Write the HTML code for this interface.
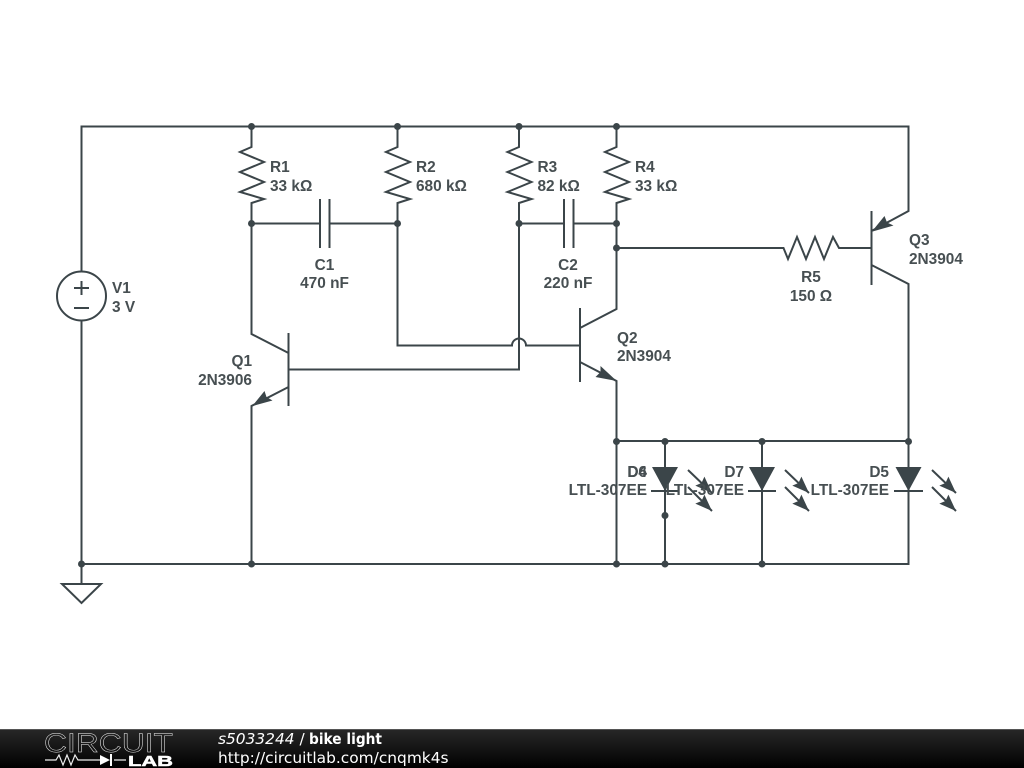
<!DOCTYPE html>
<html><head><meta charset="utf-8"><style>
html,body{margin:0;padding:0;background:#fff}
svg{display:block}
.w{fill:none;stroke:#3b4549;stroke-width:2;stroke-linejoin:miter}
.t{font-family:"Liberation Sans",sans-serif;font-size:15.4px;font-weight:bold;fill:#474f52}
.f{font-family:"DejaVu Sans",sans-serif;font-size:15.4px;fill:#fff}
.b{filter:blur(.35px)}
</style></head><body>
<svg width="1024" height="768" viewBox="0 0 1024 768" xmlns="http://www.w3.org/2000/svg">
<defs><linearGradient id="g" x1="0" y1="0" x2="0" y2="1"><stop offset="0" stop-color="#282828"/><stop offset="1" stop-color="#000"/></linearGradient></defs>
<rect width="1024" height="768" fill="#fff"/>
<g class="b">
<g class="w">
<path d="M81.5 271V126.5H908.5V211L871.5 231"/>
<path d="M81.5 321V564H908.5V284L871.5 265"/>
<path d="M81.5 564V584"/><path d="M62 584H101L81.5 603Z"/>
<circle cx="81.5" cy="296" r="24.5"/>
<path d="M74 288H89M81.5 281V295M74 308H89"/>
<path d="M251.5 126V147L240 152L264 162L240 172L264 182L240 192L264 199L251.5 203V334L288.5 353"/>
<path d="M397.5 126V147L386 152L410 162L386 172L410 182L386 192L410 199L397.5 203V345.5H512A7 7 0 0 1 526 345.5H580"/>
<path d="M519 126V147L507.5 152L531.5 162L507.5 172L531.5 182L507.5 192L531.5 199L519 203V369.5H288.5"/>
<path d="M616.5 126V147L605 152L629 162L605 172L629 182L605 192L629 199L616.5 203V309L580 328"/>
<path d="M616.5 248H783.5L788 259L797 237L806 259L815 237L824 259L833 237L839 248H871.5"/>
<path d="M251.5 223.5H320M329.5 223.5H397.5M320 199V248M329.5 199V248"/>
<path d="M519 223.5H564M573.5 223.5H616.5M564 199V248M573.5 199V248"/>
<path d="M288.5 333V406M580 308V382M871.5 211V285"/>
<path d="M288.5 387L251.5 406V564"/>
<path d="M580 362L616.5 381V564"/>
<path d="M616.5 441H908.5"/>
<path d="M665 441V564M651 491H679"/>
<path d="M762 441V564M748 491H776"/>
<path d="M894 491H923"/>
<path d="M688 470L712 493M688 487L712 511M785 470L809 493M785 487L809 511M932 470L956 493M932 487L956 511"/>
</g>
<g fill="#3b4549">
<path d="M652 467H678L665 491Z"/><path d="M749 467H775L762 491Z"/><path d="M895.500 467H921.500L908.500 491Z"/>
<path d="M252.300 406L264.500 391L266.500 397L272.500 400.500Z"/>
<path d="M616.700 381L600.500 366L600.500 372L595.500 377Z"/>
<path d="M871.700 231.700L884.500 216L887 222.500L893.500 225.500Z"/>
<path d="M712 493l-7.600 -16.400l-2.900 6.400l-6.200 2.600Z"/><path d="M712 511l-7.600 -16.400l-2.900 6.400l-6.200 2.600Z"/>
<path d="M809 493l-7.600 -16.400l-2.900 6.400l-6.200 2.600Z"/><path d="M809 511l-7.600 -16.400l-2.900 6.400l-6.200 2.600Z"/>
<path d="M956 493l-7.600 -16.400l-2.900 6.400l-6.200 2.600Z"/><path d="M956 511l-7.600 -16.400l-2.900 6.400l-6.200 2.600Z"/>
<circle cx="251.500" cy="126.500" r="3.500"/><circle cx="397.500" cy="126.500" r="3.500"/><circle cx="519" cy="126.500" r="3.500"/><circle cx="616.500" cy="126.500" r="3.500"/>
<circle cx="251.500" cy="223.500" r="3.500"/><circle cx="397.500" cy="223.500" r="3.500"/><circle cx="519" cy="223.500" r="3.500"/><circle cx="616.500" cy="223.500" r="3.500"/>
<circle cx="616.500" cy="248" r="3.500"/>
<circle cx="616.500" cy="441.500" r="3.500"/><circle cx="665" cy="441.500" r="3.500"/><circle cx="762" cy="441.500" r="3.500"/><circle cx="908.500" cy="441.500" r="3.500"/>
<circle cx="665" cy="515.500" r="3.500"/>
<circle cx="81.500" cy="564" r="3.500"/><circle cx="251.500" cy="564" r="3.500"/><circle cx="616.500" cy="564" r="3.500"/><circle cx="665" cy="564" r="3.500"/><circle cx="762" cy="564" r="3.500"/>
</g>
<g class="t">
<text x="112" y="293">V1</text><text x="112" y="312">3 V</text>
<text x="270" y="172">R1</text><text x="270" y="191">33 kΩ</text>
<text x="416" y="172">R2</text><text x="416" y="191">680 kΩ</text>
<text x="537.500" y="172">R3</text><text x="537.500" y="191">82 kΩ</text>
<text x="635" y="172">R4</text><text x="635" y="191">33 kΩ</text>
<text x="324.500" y="270" text-anchor="middle">C1</text><text x="324.500" y="288" text-anchor="middle">470 nF</text>
<text x="568" y="270" text-anchor="middle">C2</text><text x="568" y="288" text-anchor="middle">220 nF</text>
<text x="811" y="282" text-anchor="middle">R5</text><text x="811" y="301" text-anchor="middle">150 Ω</text>
<text x="252" y="366" text-anchor="end">Q1</text><text x="252" y="385" text-anchor="end">2N3906</text>
<text x="617" y="343">Q2</text><text x="617" y="361">2N3904</text>
<text x="909" y="245">Q3</text><text x="909" y="264">2N3904</text>
<text x="647" y="477" text-anchor="end">D4</text><text x="647" y="477" text-anchor="end">D6</text><text x="647" y="495" text-anchor="end">LTL-307EE</text>
<text x="744" y="477" text-anchor="end">D7</text><text x="744" y="495" text-anchor="end">LTL-307EE</text>
<text x="889" y="477" text-anchor="end">D5</text><text x="889" y="495" text-anchor="end">LTL-307EE</text>
</g>
</g>
<rect y="729" width="1024" height="39" fill="url(#g)"/>
<rect y="729" width="1024" height="1" fill="#555"/>
<text x="44" y="752" textLength="129" lengthAdjust="spacingAndGlyphs" style="font-family:'Liberation Sans',sans-serif;font-size:27px;fill:none;stroke:#eee;stroke-width:.45">CIRCUIT</text>
<text x="128" y="766" textLength="45" lengthAdjust="spacingAndGlyphs" style="font-family:'Liberation Sans',sans-serif;font-size:15px;font-weight:bold;fill:#fff;stroke:#fff;stroke-width:.5">LAB</text>
<path d="M45 760H56L59 755L63 765L67 755L71 765L75 755L78 760H100M114 760H126" fill="none" stroke="#eee" stroke-width="1.200"/>
<path d="M100 755V765L110 760Z M110 754H112V766H110Z" fill="#fff"/>
<text class="f" x="218" y="744"><tspan font-style="italic">s5033244</tspan> /</text>
<text class="f" x="309" y="744" font-weight="bold" textLength="73" lengthAdjust="spacingAndGlyphs">bike light</text>
<text class="f" x="218" y="763">http://circuitlab.com/cnqmk4s</text>
</svg>
</body></html>
